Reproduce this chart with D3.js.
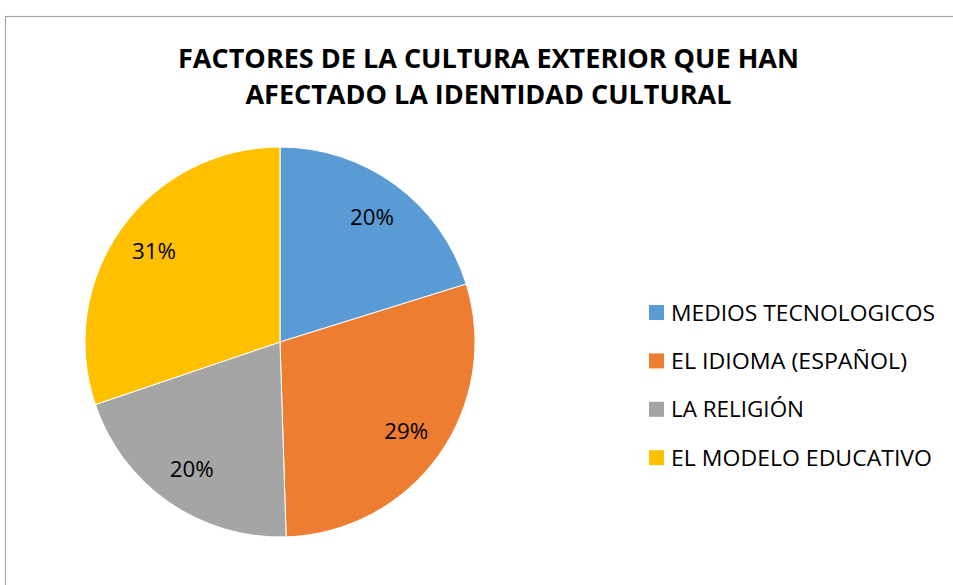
<!DOCTYPE html>
<html>
<head>
<meta charset="utf-8">
<script src="https://cdn.jsdelivr.net/npm/d3@7"></script>
<style>
    body { margin: 0; background: #fff; }
    text { font-family: "Open Sans", sans-serif; }
</style>
</head>
<body>
<script>
// chart data
var categories = ['MEDIOS TECNOLOGICOS', 'EL IDIOMA (ESPAÑOL)', 'LA RELIGIÓN', 'EL MODELO EDUCATIVO'];
var values = [20.2, 29.3, 20.3, 30.2];
var valueLabels = ['20%', '29%', '20%', '31%'];
var colors = ['#5b9bd5', '#ed7d31', '#a5a5a5', '#ffc000'];
var titleLines = ['FACTORES DE LA CULTURA EXTERIOR QUE HAN', 'AFECTADO LA IDENTIDAD CULTURAL'];

function main() {
    var w = 953;
    var h = 585;
    var cx = 280, cy = 342, r = 195;

    var svg = d3.select("body")
                .append("svg")
                .attr("width", w)
                .attr("height", h);

    // chart area border (runs off the right and bottom)
    svg.append("rect")
        .attr("x", 5.5)
        .attr("y", 16.5)
        .attr("width", 1000)
        .attr("height", 1000)
        .attr("fill", "none")
        .attr("stroke", "#a6a6a6")
        .attr("stroke-width", 1.2);

    // title
    var titleWidths = [621, 486];
    svg.selectAll("text.title")
        .data(titleLines)
        .enter()
        .append("text")
        .attr("class", "title")
        .text(function(d) { return d; })
        .attr("x", 488.5)
        .attr("y", function(d, i) { return 68 + i * 35.5; })
        .attr("text-anchor", "middle")
        .attr("font-size", "27px")
        .attr("font-weight", "bold")
        .attr("fill", "#000")
        .attr("textLength", function(d, i) { return titleWidths[i]; })
        .attr("lengthAdjust", "spacingAndGlyphs");

    // pie
    var pie = d3.pie().sort(null).value(function(d) { return d; });
    var arc = d3.arc().innerRadius(0).outerRadius(r);
    var labelArc = d3.arc().innerRadius(155).outerRadius(155);
    var arcs = pie(values);

    var g = svg.append("g").attr("transform", "translate(" + cx + "," + cy + ")");

    g.selectAll("path")
        .data(arcs)
        .enter()
        .append("path")
        .attr("d", arc)
        .attr("fill", function(d, i) { return colors[i]; })
        .attr("stroke", "#fff")
        .attr("stroke-width", 1);

    g.selectAll("text")
        .data(arcs)
        .enter()
        .append("text")
        .text(function(d, i) { return valueLabels[i]; })
        .attr("x", function(d) { return labelArc.centroid(d)[0]; })
        .attr("y", function(d) { return labelArc.centroid(d)[1] + 7.5; })
        .attr("text-anchor", "middle")
        .attr("font-size", "21px")
        .attr("fill", "#000")
        .attr("textLength", 44)
        .attr("lengthAdjust", "spacingAndGlyphs");

    // legend
    var legendWidths = [264, 236, 133, 261];
    var legend = svg.selectAll("g.legend")
        .data(categories)
        .enter()
        .append("g")
        .attr("class", "legend")
        .attr("transform", function(d, i) { return "translate(649," + (312.5 + i * 48.4) + ")"; });

    legend.append("rect")
        .attr("x", 0)
        .attr("y", -7.5)
        .attr("width", 15)
        .attr("height", 15)
        .attr("fill", function(d, i) { return colors[i]; });

    legend.append("text")
        .text(function(d) { return d; })
        .attr("x", 22)
        .attr("y", 8)
        .attr("font-size", "21px")
        .attr("fill", "#000")
        .attr("textLength", function(d, i) { return legendWidths[i]; })
        .attr("lengthAdjust", "spacingAndGlyphs");
}

main();
</script>
</body>
</html>
